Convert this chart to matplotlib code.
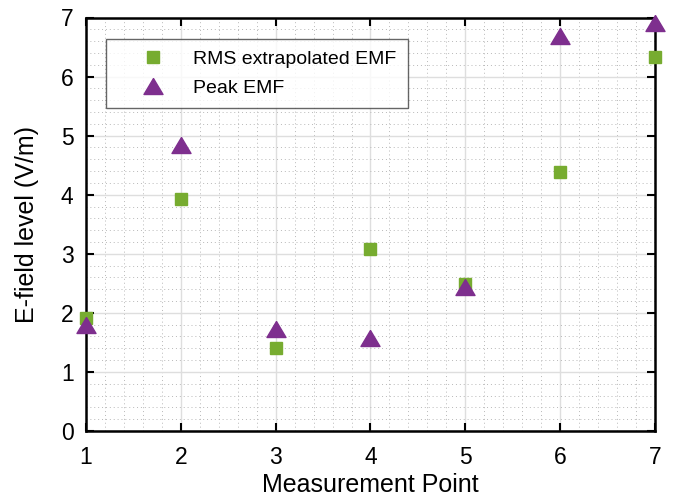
import matplotlib.pyplot as plt
from matplotlib.ticker import MultipleLocator

plt.rcParams['font.family'] = ['Liberation Sans', 'DejaVu Sans']

# measurement points and E-field values (V/m)
points = [1, 2, 3, 4, 5, 6, 7]
rms_emf = [1.91, 3.92, 1.41, 3.08, 2.49, 4.39, 6.33]
peak_emf = [1.80, 4.85, 1.72, 1.58, 2.43, 6.69, 6.90]

# wide, flat triangle like the reference marker
tri = [(0, 0.84), (-1, -0.84), (1, -0.84), (0, 0.84)]

fig = plt.figure(figsize=(6.74, 5.0), dpi=100)
ax = fig.add_axes([0.1276, 0.138, 0.8442, 0.827])

ax.plot(points, rms_emf, 's', color='#77AC30', markersize=8.8, clip_on=False,
        zorder=3, label='RMS extrapolated EMF')
ax.plot(points, peak_emf, marker=tri, linestyle='none', color='#7E2F8E',
        markersize=13.7, clip_on=False, zorder=4, label='Peak EMF')

ax.set_xlim(1, 7)
ax.set_ylim(0, 7)
ax.xaxis.set_major_locator(MultipleLocator(1))
ax.yaxis.set_major_locator(MultipleLocator(1))
ax.xaxis.set_minor_locator(MultipleLocator(0.2))
ax.yaxis.set_minor_locator(MultipleLocator(0.2))

ax.grid(which='major', color='#dedede', linewidth=1.0, linestyle='-')
ax.grid(which='minor', color='#b8b8b8', linewidth=0.7, linestyle=(0, (1, 3)))
ax.set_axisbelow(True)

ax.tick_params(axis='x', which='major', pad=10.5)
ax.tick_params(axis='y', which='major', pad=9)
ax.tick_params(which='major', direction='in', length=6, width=1.5,
               top=True, right=True, labelsize=16.5, colors='black')
ax.tick_params(which='minor', length=0)
for s in ax.spines.values():
    s.set_linewidth(1.8)

ax.set_xlabel('Measurement Point', fontsize=18, labelpad=3)
ax.set_ylabel('E-field level (V/m)', fontsize=18, labelpad=16)

leg = ax.legend(loc='upper left', bbox_to_anchor=(0.035, 0.948), fontsize=14,
                frameon=True, fancybox=False, edgecolor='#404040',
                handletextpad=0.23, borderpad=0.6, labelspacing=0.55,
                borderaxespad=0, handlelength=3.65)
leg.get_frame().set_linewidth(1.0)

fig.savefig('out.png', dpi=100)
